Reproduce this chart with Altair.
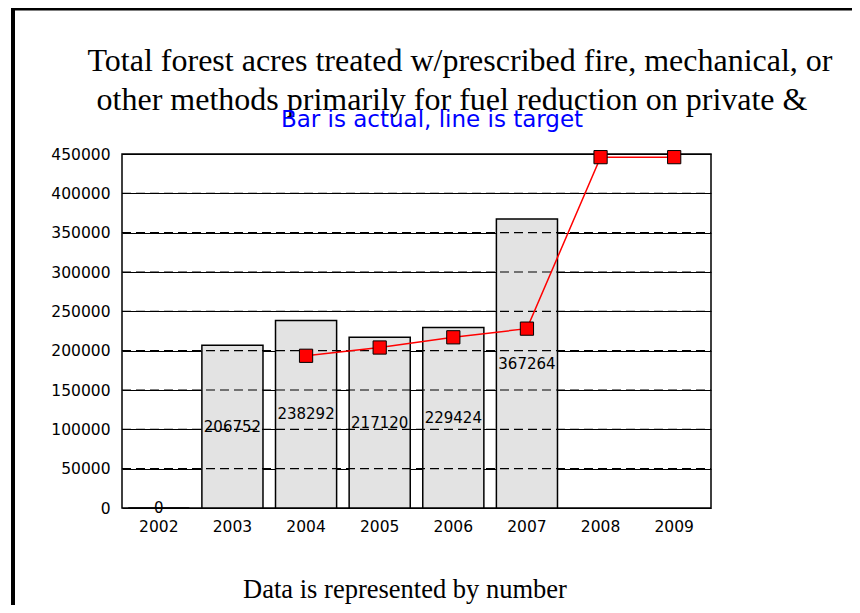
import altair as alt
import pandas as pd

years = ["2002", "2003", "2004", "2005", "2006", "2007", "2008", "2009"]
actual_years = ["2002", "2003", "2004", "2005", "2006", "2007"]
actual = [0, 206752, 238292, 217120, 229424, 367264]
target_years = ["2004", "2005", "2006", "2007", "2008", "2009"]
target = [193500, 204000, 217000, 228000, 446000, 446000]
y_ticks = [0, 50000, 100000, 150000, 200000, 250000, 300000, 350000, 400000, 450000]
title_line1 = "Total forest acres treated w/prescribed fire, mechanical, or"
title_line2 = "other methods primarily for fuel reduction on private &"
subtitle = "Bar is actual, line is target"
footer = "Data is represented by number"

W, H = 589, 354

bars_df = pd.DataFrame({"year": actual_years, "acres": actual})
target_df = pd.DataFrame({"year": target_years, "target": target})
grid_df = pd.DataFrame({"tick": y_ticks[1:-1]})

xscale = alt.Scale(domain=years, paddingInner=0.17, paddingOuter=0.085)
yscale = alt.Scale(domain=[0, 450000], nice=False, zero=True)

xaxis = alt.Axis(labelAngle=0, tickSize=0, labelPadding=11, domain=False,
                 grid=False, labelFont="DejaVu Sans", labelFontSize=15.5,
                 labelColor="black")
yaxis = alt.Axis(values=y_ticks, format="d", tickSize=0, labelPadding=12,
                 labelOverlap=False, domain=False, grid=True,
                 gridColor="black", gridWidth=1.2, gridOpacity=1,
                 labelFont="DejaVu Sans", labelFontSize=15.5, labelColor="black")


def X():
    return alt.X("year:N", scale=xscale, title=None, axis=xaxis)


def Y(field):
    return alt.Y(field, scale=yscale, title=None, axis=yaxis)


bars = alt.Chart(bars_df).mark_bar(fill="#e3e3e3", stroke="black", strokeWidth=1.5).encode(
    x=X(), y=Y("acres:Q"),
)

dashes = alt.Chart(grid_df).mark_rule(color="black", strokeWidth=1.2, strokeDash=[9, 5]).encode(
    y=Y("tick:Q"), x=alt.value(0), x2=alt.value(W),
)

labels = alt.Chart(bars_df).transform_calculate(half="datum.acres / 2").mark_text(
    font="DejaVu Sans", fontSize=15, color="black", baseline="middle", align="center"
).encode(
    x=X(), y=Y("half:Q"), text=alt.Text("acres:Q", format="d"),
)

line = alt.Chart(target_df).mark_line(color="#ff0000", strokeWidth=1.5).encode(
    x=X(), y=Y("target:Q"),
)
points = alt.Chart(target_df).mark_point(shape="square", filled=True, fill="#ff0000",
                                         stroke="black", strokeWidth=1, size=175,
                                         opacity=1).encode(
    x=X(), y=Y("target:Q"),
)


def txt(s, x, y, font, size, color="black"):
    return alt.Chart(pd.DataFrame({"t": [s]})).mark_text(
        font=font, fontSize=size, color=color, align="center", baseline="alphabetic"
    ).encode(text="t:N", x=alt.value(x), y=alt.value(y))


# plot origin is at page (122, 154)
t1 = txt(title_line1, 460 - 122, 71 - 154, "Liberation Serif", 32)
t2 = txt(title_line2, 452 - 122, 110 - 154, "Liberation Serif", 32)
st = txt(subtitle, 432 - 122, 127 - 154, "DejaVu Sans", 23, "#0000ff")
ft = txt(footer, 405 - 122, 598 - 154, "Liberation Serif", 26.5)

border_left = alt.Chart(pd.DataFrame({"a": [0]})).mark_rule(color="black", strokeWidth=4).encode(
    x=alt.value(13 - 122), y=alt.value(8 - 154), y2=alt.value(620 - 154))
border_top = alt.Chart(pd.DataFrame({"a": [0]})).mark_rule(color="black", strokeWidth=3).encode(
    y=alt.value(9 - 154), x=alt.value(11 - 122), x2=alt.value(870 - 122))

chart = alt.layer(
    bars, dashes, labels, line, points, t1, t2, st, ft, border_left, border_top
).properties(
    width=W, height=H,
    autosize=alt.AutoSizeParams(type="none"),
    padding={"left": 114, "top": 146, "right": 141, "bottom": 97},
).configure(
    background="white",
    view=alt.ViewConfig(stroke="black", strokeWidth=1.5),
)

chart.save("out.html", embed_options={"renderer": "svg", "actions": False})
